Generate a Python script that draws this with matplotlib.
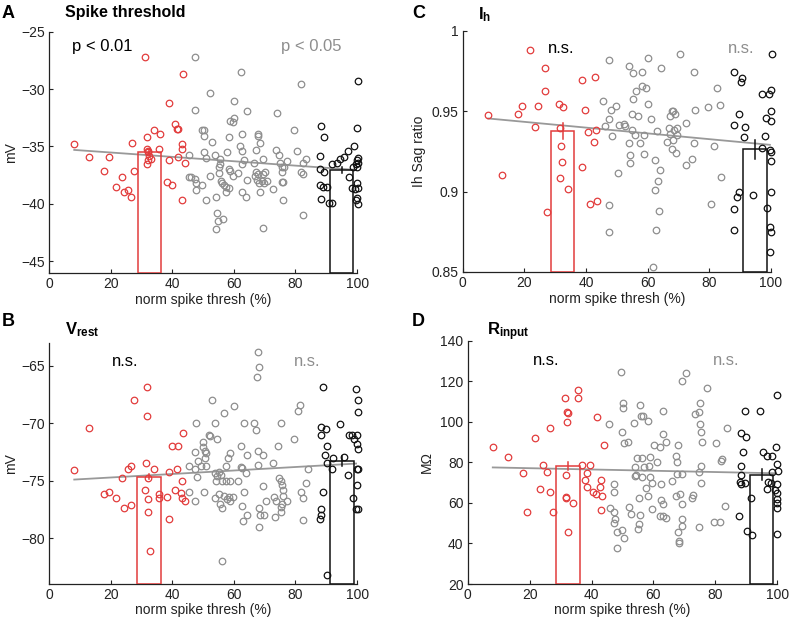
import matplotlib
matplotlib.use("Agg")
import matplotlib.pyplot as plt
import numpy as np

plt.rcParams['font.family'] = ['Liberation Sans', 'DejaVu Sans']
plt.rcParams['mathtext.fontset'] = 'custom'
plt.rcParams['mathtext.rm'] = 'Liberation Sans'
plt.rcParams['mathtext.bf'] = 'Liberation Sans:bold'

RED = '#e23c3c'
GRAY = '#8e8e8e'
BLACK = '#111111'

# ---------------- Panel A: Spike threshold ----------------
A_red = [(8.2,-34.8),(12.9,-35.9),(18.0,-37.1),(19.4,-35.9),(21.8,-38.5),(23.6,-37.7),(24.4,-39.0),(25.8,-38.8),
         (26.8,-34.7),(26.7,-39.4),(27.5,-37.1),(31.2,-27.2),(31.7,-34.2),(31.7,-35.2),(32.0,-35.4),(32.3,-35.5),
         (32.5,-35.8),(32.2,-36.2),(31.8,-36.5),(33.0,-36.1),(34.2,-33.6),(35.9,-33.9),(35.8,-35.2),(38.8,-31.2),
         (38.9,-36.2),(38.2,-38.1),(39.8,-38.4),(40.9,-33.0),(41.5,-33.5),(41.8,-33.5),(41.9,-35.9),(43.1,-34.8),
         (43.2,-35.2),(43.5,-28.7),(44.1,-36.4),(43.2,-39.7)]
A_gray = [(47.4,-27.2),(47.4,-31.8),(52.2,-30.3),(62.3,-28.5),(60.2,-31.0),(64.2,-31.9),(59.9,-32.5),(58.8,-32.8),
          (59.6,-32.9),(73.9,-32.1),(81.8,-29.6),(79.4,-33.6),(49.7,-33.6),(50.4,-33.6),(50.2,-34.1),(52.9,-34.6),
          (58.4,-34.2),(62.6,-33.9),(67.9,-33.9),(68.0,-34.1),(68.4,-34.7),(62.0,-35.0),(67.2,-35.3),(73.8,-35.3),
          (80.5,-35.4),(45.3,-35.7),(50.2,-35.5),(51.1,-36.0),(54.0,-35.7),(55.5,-36.1),(57.7,-35.5),(62.7,-35.4),
          (63.3,-36.2),(62.8,-36.5),(66.4,-36.4),(69.6,-36.1),(74.7,-35.7),(75.1,-36.4),(77.4,-36.3),(83.5,-36.1),
          (82.3,-36.4),(55.4,-36.5),(55.3,-36.8),(55.1,-37.3),(58.4,-37.0),(58.6,-37.1),(61.2,-37.3),(67.2,-37.2),
          (67.9,-37.4),(70.0,-37.2),(69.6,-37.4),(75.6,-37.2),(75.7,-36.8),(76.4,-36.8),(81.9,-37.2),(82.3,-37.4),
          (45.4,-37.7),(46.2,-37.7),(47.3,-37.8),(47.7,-38.2),(47.8,-38.8),(49.8,-38.4),(52.4,-37.6),(55.7,-38.0),
          (56.0,-38.2),(56.8,-38.4),(57.4,-38.5),(57.6,-39.0),(58.4,-38.6),(59.8,-37.6),(62.8,-39.0),(64.0,-39.4),
          (64.2,-37.9),(68.3,-38.2),(68.4,-39.0),(69.2,-38.0),(69.8,-38.2),(70.7,-38.0),(72.7,-38.7),(75.6,-38.1),
          (76.0,-38.1),(76.1,-39.7),(51.0,-39.7),(54.2,-39.4),(54.5,-40.8),(54.9,-41.5),(56.4,-41.3),(54.2,-42.2),
          (69.5,-42.1),(82.6,-41.0),(67.5,-37.9),(67.0,-37.6)]
A_black = [(88.3,-33.2),(89.2,-34.2),(88.1,-35.8),(88.1,-37.0),(89.3,-37.2),(88.1,-38.4),(89.1,-38.5),(90.2,-38.5),
           (88.2,-39.6),(90.8,-39.9),(91.8,-39.9),(92.0,-36.5),(93.6,-36.4),(94.5,-36.1),(95.7,-35.9),(97.0,-35.4),
           (98.9,-35.0),(99.7,-36.5),(100.2,-36.0),(100.3,-29.3),(100.1,-33.4),(99.9,-36.2),(100.3,-36.4),(99.9,-36.8),
           (98.8,-36.8),(97.3,-37.7),(98.2,-38.6),(100.1,-38.2),(100.3,-38.6),(99.5,-39.7),(100.0,-39.5),(100.2,-40.0),
           (99.3,-38.7)]
A_bar_x = [32.6, 95.0]
A_bar_y = [-35.45, -37.05]
A_bar_err = [0.2, 0.3]
A_fit_x = [8.2, 100.0]
A_fit_y = [-35.3, -37.05]
A_ylim = (-46, -25)
A_yticks = [-45, -40, -35, -30, -25]
A_ytick_labels = ['\u221245', '\u221240', '\u221235', '\u221230', '\u221225']

# ---------------- Panel B: Vrest ----------------
B_red = [(8.2,-74.1),(13.0,-70.4),(17.9,-76.15),(19.4,-76.0),(21.8,-76.5),(23.6,-74.8),(24.4,-77.4),(25.8,-74.0),
         (26.7,-73.7),(26.7,-77.1),(27.6,-68.0),(31.7,-66.8),(31.9,-69.4),(31.6,-73.5),(31.3,-75.8),(32.3,-74.8),
         (32.3,-76.6),(32.2,-77.7),(32.8,-81.1),(34.1,-74.0),(35.6,-76.2),(35.8,-76.5),(38.2,-76.4),(38.9,-74.2),
         (38.9,-78.3),(39.8,-72.0),(42.0,-72.0),(41.5,-74.0),(40.9,-75.8),(42.8,-76.1),(43.2,-75.0),(43.3,-76.5),
         (43.6,-70.8),(44.3,-76.8)]
B_gray = [(67.8,-63.8),(68.3,-65.1),(67.5,-66.0),(52.8,-68.0),(59.9,-68.5),(56.7,-69.1),(47.6,-70.0),(54.0,-70.0),
          (63.2,-70.0),(66.4,-70.0),(67.3,-70.6),(75.3,-70.0),(80.8,-68.9),(81.6,-68.4),(79.6,-71.4),(52.0,-71.0),
          (52.4,-71.1),(54.4,-71.4),(50.1,-71.6),(49.9,-72.1),(50.6,-72.4),(47.5,-72.5),(48.5,-73.3),(50.9,-72.6),
          (50.6,-73.0),(49.5,-73.7),(51.0,-73.7),(45.6,-73.7),(47.5,-74.0),(62.3,-72.0),(64.2,-72.8),(67.7,-72.4),
          (69.5,-72.8),(74.4,-72.0),(58.6,-72.6),(58.2,-73.0),(57.6,-73.7),(62.3,-73.8),(62.5,-73.9),(64.0,-74.3),
          (67.7,-73.6),(72.7,-73.5),(84.1,-74.0),(83.5,-75.2),(81.8,-76.0),(82.4,-76.5),(82.6,-78.4),(47.9,-74.7),
          (45.5,-76.0),(47.5,-76.8),(50.3,-76.0),(54.0,-74.3),(54.6,-74.6),(55.1,-74.2),(54.2,-75.0),(55.8,-74.5),
          (56.1,-75.0),(57.3,-75.0),(58.8,-75.0),(61.2,-75.0),(54.0,-76.5),(55.2,-76.2),(55.6,-77.0),(56.2,-77.4),
          (56.8,-76.3),(58.4,-76.4),(58.8,-76.8),(59.6,-76.4),(57.9,-76.6),(62.7,-77.2),(63.4,-76.0),(62.9,-78.5),
          (64.2,-78.0),(69.6,-75.5),(68.3,-77.4),(68.5,-78.0),(69.8,-78.0),(68.3,-79.0),(70.5,-76.8),(72.9,-76.4),
          (73.7,-76.8),(73.5,-78.2),(74.8,-74.8),(75.2,-75.0),(75.6,-75.4),(75.9,-75.8),(76.1,-76.3),(75.4,-77.3),
          (75.3,-77.7),(75.7,-77.0),(77.4,-76.8),(56.2,-82.0)]
B_black = [(88.8,-66.8),(88.4,-70.3),(88.3,-71.0),(89.9,-70.5),(90.2,-72.0),(89.6,-72.8),(90.2,-73.5),(88.8,-76.0),
           (88.2,-77.5),(88.1,-78.3),(88.3,-78.0),(90.3,-83.2),(92.2,-73.0),(92.0,-74.0),(94.6,-70.1),(95.7,-72.9),
           (97.2,-74.5),(97.3,-71.0),(98.3,-71.0),(98.9,-71.4),(98.7,-76.5),(99.5,-67.0),(100.2,-68.0),(100.2,-69.0),
           (100.0,-71.0),(100.0,-71.8),(100.2,-72.2),(99.9,-74.0),(100.2,-74.0),(100.0,-75.4),(99.8,-77.5),(100.3,-77.5)]
B_bar_x = [32.5, 95.1]
B_bar_y = [-74.64, -73.28]
B_bar_err = [0.25, 0.45]
B_fit_x = [8.2, 100.0]
B_fit_y = [-74.9, -73.5]
B_ylim = (-84, -63)
B_yticks = [-80, -75, -70, -65]
B_ytick_labels = ['\u221280', '\u221275', '\u221270', '\u221265']

# ---------------- Panel C: Ih ----------------
C_red = [(8.3,0.9475),(12.9,0.9104),(17.8,0.948),(19.2,0.9535),(21.7,0.9883),(23.6,0.940),(24.4,0.953),(26.6,0.9627),
         (26.6,0.9768),(27.5,0.8875),(31.1,0.9547),(32.4,0.9527),(31.6,0.9398),(31.8,0.9285),(32.1,0.9186),(31.5,0.9082),
         (34.1,0.9018),(38.7,0.9697),(39.6,0.9506),(38.7,0.915),(40.8,0.9369),(41.4,0.892),(43.1,0.9715),(43.2,0.9383),
         (42.7,0.9311),(43.5,0.8939)]
C_gray = [(47.4,0.9816),(47.4,0.9451),(46.2,0.9408),(45.5,0.9561),(48.1,0.9506),(48.4,0.9346),(49.8,0.9531),(50.4,0.9117),
          (50.6,0.9414),(52.4,0.942),(52.7,0.941),(54.1,0.9781),(55.2,0.9736),(53.9,0.930),(54.3,0.923),(54.2,0.918),
          (55.2,0.9574),(56.1,0.9623),(55.0,0.948),(54.8,0.9383),(55.9,0.9352),(56.8,0.9469),(57.5,0.9305),(58.3,0.9742),
          (58.2,0.9658),(59.6,0.9645),(58.7,0.9352),(58.9,0.9236),(60.0,0.9547),(60.1,0.9834),(61.0,0.9449),(63.1,0.9377),
          (62.4,0.9197),(63.4,0.9063),(62.3,0.9012),(64.0,0.9137),(63.8,0.8877),(62.9,0.8764),(61.9,0.8533),(64.2,0.9768),
          (66.2,0.9311),(66.9,0.9393),(67.4,0.9356),(67.4,0.9471),(68.0,0.950),(68.4,0.950),(68.9,0.948),(67.8,0.9264),
          (68.1,0.932),(69.3,0.924),(69.5,0.935),(69.7,0.9398),(68.6,0.9385),(70.6,0.9856),(72.6,0.9424),(72.4,0.9164),
          (74.3,0.9203),(75.0,0.9305),(75.0,0.9742),(75.5,0.9506),(79.5,0.9527),(80.6,0.892),(81.7,0.9281),(82.4,0.9643),
          (83.4,0.9541),(83.9,0.9092),(47.4,0.8748),(47.6,0.8916)]
C_black = [(88.0,0.9742),(90.5,0.9705),(90.4,0.968),(89.7,0.948),(88.1,0.9414),(91.6,0.9404),(91.4,0.9342),(89.6,0.8998),
           (89.1,0.8969),(88.2,0.8891),(88.2,0.8764),(94.3,0.8977),(97.1,0.9609),(99.4,0.9609),(100.3,0.9859),(100.2,0.9633),
           (100.2,0.9504),(100.1,0.9441),(98.6,0.9457),(98.1,0.9346),(97.1,0.927),(99.9,0.9256),(100.2,0.9244),(100.2,0.9189),
           (100.1,0.8998),(98.9,0.8896),(99.8,0.8777),(100.1,0.8748),(99.6,0.8621)]
C_bar_x = [32.4, 94.9]
C_bar_y = [0.9375, 0.9262]
C_bar_err = [0.005, 0.006]
C_fit_x = [8.3, 99.7]
C_fit_y = [0.9455, 0.9291]
C_ylim = (0.85, 1.0)
C_yticks = [0.85, 0.9, 0.95, 1.0]
C_ytick_labels = ['0.85', '0.9', '0.95', '1']

# ---------------- Panel D: Rinput ----------------
D_red = [(8.1,87.4),(12.9,82.5),(17.8,74.6),(19.2,55.3),(21.7,92.2),(23.5,66.7),(24.3,78.7),(25.6,75.1),(26.6,96.9),
         (26.6,65.2),(27.5,55.3),(31.3,111.6),(32.5,104.3),(32.2,104.6),(32.2,99.7),(31.6,73.9),(31.6,62.7),(31.9,62.2),
         (32.5,45.5),(34.1,60.0),(35.6,115.5),(35.6,111.7),(36.8,78.7),(38.4,74.6),(38.6,68.0),(38.0,71.3),(39.6,78.7),
         (40.6,65.2),(41.4,64.4),(41.7,102.4),(42.6,67.7),(43.1,71.3),(43.1,56.7),(43.5,63.3),(44.0,88.4)]
D_gray = [(49.6,124.4),(50.1,109.1),(50.1,106.6),(50.5,89.5),(51.9,90.0),(49.9,95.0),(45.5,98.9),(47.3,69.5),(47.1,65.4),
          (46.0,57.5),(47.1,55.5),(47.5,52.0),(47.1,49.9),(48.3,45.8),(48.2,37.8),(49.8,46.8),(50.6,42.8),(52.2,58.1),
          (52.8,54.5),(53.8,99.2),(54.0,77.9),(54.8,82.1),(54.5,73.9),(55.4,62.2),(55.3,49.6),(55.0,47.1),(54.0,73.4),
          (55.5,54.2),(55.8,108.3),(56.1,103.0),(56.7,102.7),(56.3,82.0),(56.8,77.6),(56.3,72.7),(57.5,67.2),(58.2,100.2),
          (58.3,63.2),(58.4,78.4),(58.8,82.5),(58.8,72.7),(59.5,69.6),(59.5,57.0),(60.1,88.4),(61.1,80.0),(62.2,87.7),
          (62.3,69.1),(62.0,53.7),(62.5,61.3),(63.0,53.4),(63.1,105.3),(63.2,94.0),(63.2,59.4),(64.0,90.0),(63.9,52.6),
          (66.1,70.6),(67.3,63.6),(67.4,83.3),(67.7,80.3),(67.7,74.2),(68.0,88.5),(68.4,64.4),(67.8,45.5),(68.1,41.4),
          (68.2,40.2),(69.2,120.3),(70.4,124.1),(69.2,74.2),(69.2,59.4),(69.2,52.1),(69.2,48.8),(72.4,62.2),(72.7,63.8),
          (73.3,103.8),(74.6,105.0),(74.9,109.1),(75.1,99.0),(75.4,94.9),(75.7,89.9),(75.3,69.6),(74.7,75.4),(75.3,78.4),
          (74.8,47.9),(77.3,116.5),(80.3,89.4),(82.2,81.6),(81.9,80.8),(79.4,50.7),(81.6,50.4),(83.2,58.6),(83.7,96.9)]
D_black = [(89.7,105.2),(94.3,105.2),(99.8,113.2),(88.4,94.5),(90.0,92.7),(89.0,84.9),(88.1,78.4),(88.1,73.8),(87.9,70.1),
           (89.5,69.6),(88.4,69.3),(91.6,62.4),(87.7,53.7),(90.2,46.0),(91.9,44.2),(95.3,84.9),(96.8,83.1),(98.4,82.9),
           (99.4,87.4),(99.8,79.2),(100.1,75.6),(98.3,75.1),(98.1,69.8),(96.8,66.7),(99.2,66.4),(100.0,69.3),(100.0,64.7),
           (100.0,61.9),(100.0,59.8),(99.8,57.6),(100.0,44.5),(97.0,70.1)]
D_bar_x = [32.4, 94.9]
D_bar_y = [78.2, 73.9]
D_bar_err = [2.2, 2.8]
D_fit_x = [8.1, 99.7]
D_fit_y = [77.5, 74.6]
D_ylim = (20, 140)
D_yticks = [20, 40, 60, 80, 100, 120, 140]
D_ytick_labels = ['20', '40', '60', '80', '100', '120', '140']

x_ticks = [0, 20, 40, 60, 80, 100]
x_label = 'norm spike thresh (%)'

panels = [
    dict(pos=[0.062, 0.5587, 0.390, 0.390], red=A_red, gray=A_gray, black=A_black, bx=A_bar_x, by=A_bar_y, be=A_bar_err,
         fx=A_fit_x, fy=A_fit_y, ylim=A_ylim, yt=A_yticks, ytl=A_ytick_labels, ylabel='mV', ylx=-0.10,
         txt_l=('p < 0.01', 7.4, -26.3), txt_r=('p < 0.05', 95.1, -26.3), xlab_y=-0.085),
    dict(pos=[0.062, 0.055, 0.390, 0.390], red=B_red, gray=B_gray, black=B_black, bx=B_bar_x, by=B_bar_y, be=B_bar_err,
         fx=B_fit_x, fy=B_fit_y, ylim=B_ylim, yt=B_yticks, ytl=B_ytick_labels, ylabel='mV', ylx=-0.10,
         txt_l=('n.s.', 20.3, -64.6), txt_r=('n.s.', 88.1, -64.6), xlab_y=-0.078),
    dict(pos=[0.5857, 0.560, 0.390, 0.390], red=C_red, gray=C_gray, black=C_black, bx=C_bar_x, by=C_bar_y, be=C_bar_err,
         fx=C_fit_x, fy=C_fit_y, ylim=C_ylim, yt=C_yticks, ytl=C_ytick_labels, ylabel='Ih Sag ratio', ylx=-0.119,
         txt_l=('n.s.', 27.8, 0.9893), txt_r=('n.s.', 94.8, 0.9893), xlab_y=-0.085),
    dict(pos=[0.592, 0.055, 0.392, 0.3937], red=D_red, gray=D_gray, black=D_black, bx=D_bar_x, by=D_bar_y, be=D_bar_err,
         fx=D_fit_x, fy=D_fit_y, ylim=D_ylim, yt=D_yticks, ytl=D_ytick_labels, ylabel='M\u03a9', ylx=-0.109,
         txt_l=('n.s.', 21.2, 130.1), txt_r=('n.s.', 87.8, 130.1), xlab_y=-0.078),
]

fig = plt.figure(figsize=(7.9, 6.18), dpi=100)

for p in panels:
    ax = fig.add_axes(p['pos'])
    ax.set_xlim(0, 100)
    ax.set_ylim(*p['ylim'])
    # regression line
    ax.plot(p['fx'], p['fy'], color='#999999', lw=1.3, zorder=2)
    # bars (unfilled) from bottom of axis
    base = p['ylim'][0]
    colors = [RED, BLACK]
    for xc, yv, e, c in zip(p['bx'], p['by'], p['be'], colors):
        ax.bar(xc, yv - base, bottom=base, width=7.6, fill=False, edgecolor=c, linewidth=1.1, zorder=3)
        ax.plot([xc, xc], [yv - e, yv + e], color=c, lw=1.1, zorder=3)
    # points
    for pts, c in ((p['red'], RED), (p['gray'], GRAY), (p['black'], BLACK)):
        arr = np.array(pts)
        ax.plot(arr[:, 0], arr[:, 1], 'o', ms=4.7, mfc='none', mec=c, mew=0.9, clip_on=False, zorder=4)
    # texts
    t, x, y = p['txt_l']
    ax.text(x, y, t, color='black', fontsize=12, ha='left', va='center')
    t, x, y = p['txt_r']
    ax.text(x, y, t, color=GRAY, fontsize=12, ha='right', va='center')
    # axes style
    for s in ('top', 'right'):
        ax.spines[s].set_visible(False)
    for s in ('left', 'bottom'):
        ax.spines[s].set_color('#222222')
        ax.spines[s].set_linewidth(0.9)
    ax.set_xticks(x_ticks)
    ax.set_yticks(p['yt'])
    ax.set_yticklabels(p['ytl'])
    ax.tick_params(direction='in', length=3, width=0.8, labelsize=10, colors='#222222', pad=3)
    ax.set_xlabel(x_label, fontsize=10, color='#222222')
    ax.xaxis.set_label_coords(0.5, p['xlab_y'])
    ax.set_ylabel(p['ylabel'], fontsize=10, color='#222222')
    ax.yaxis.set_label_coords(p['ylx'], 0.5)

# panel letters and titles
H = 618.0
W = 790.0
fig.text(2 / W, 1 - 13 / H, 'A', fontsize=13, fontweight='bold', va='center', ha='left')
fig.text(65 / W, 1 - 13 / H, 'Spike threshold', fontsize=11.5, fontweight='bold', va='center', ha='left')
fig.text(412 / W, 1 - 13 / H, 'C', fontsize=13, fontweight='bold', va='center', ha='left')
fig.text(478 / W, 1 - 15 / H, r'$\mathbf{I_h}$', fontsize=12, va='center', ha='left')
fig.text(2 / W, 1 - 322 / H, 'B', fontsize=13, fontweight='bold', va='center', ha='left')
fig.text(65 / W, 1 - 330 / H, r'$\mathbf{V_{rest}}$', fontsize=12, va='center', ha='left')
fig.text(412 / W, 1 - 322 / H, 'D', fontsize=13, fontweight='bold', va='center', ha='left')
fig.text(487 / W, 1 - 332 / H, r'$\mathbf{R_{input}}$', fontsize=12, va='center', ha='left')

fig.savefig('out.png', dpi=100)
